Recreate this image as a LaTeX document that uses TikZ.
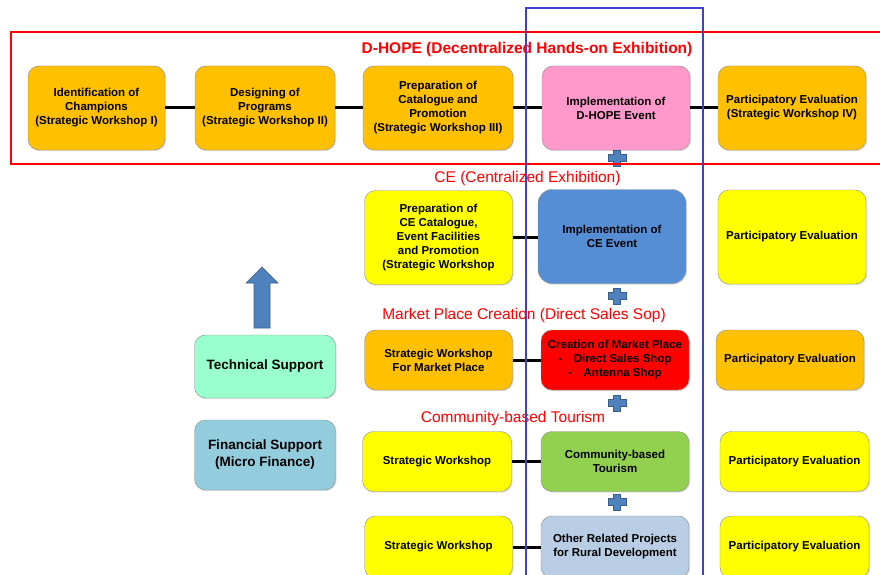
\documentclass[tikz,border=0pt]{standalone}
\usepackage{fontspec}
\setmainfont{Liberation Sans}
\usetikzlibrary{shadows}

\definecolor{stageorange}{HTML}{FFC000}
\definecolor{stagepink}{HTML}{FF99CC}
\definecolor{stageyellow}{HTML}{FFFF00}
\definecolor{stageblue}{HTML}{558ED5}
\definecolor{stagered}{HTML}{FF0000}
\definecolor{stagegreen}{HTML}{92D050}
\definecolor{stagesky}{HTML}{B9CDE5}
\definecolor{techgreen}{HTML}{99FFCC}
\definecolor{fincyan}{HTML}{93CDDD}
\definecolor{edgegray}{HTML}{8C8C8C}
\definecolor{signblue}{HTML}{4F81BD}
\definecolor{signedge}{HTML}{385D8A}
\definecolor{frameblue}{HTML}{4040D0}

\tikzset{
  stage/.style={draw=edgegray, rounded corners=11pt, align=center, inner sep=1pt,
    font=\bfseries\fontsize{11.5}{14}\selectfont,
    drop shadow={shadow xshift=1.2pt, shadow yshift=-1.2pt, opacity=0.25, fill=gray}},
  support/.style={stage, font=\bfseries\fontsize{13.5}{17}\selectfont},
  link/.style={line width=3pt, black},
  bandlabel/.style={text=red, font=\fontsize{15.5}{18}\selectfont},
  addsign/.pic={
    \draw[signedge, fill=signblue, line width=0.6pt]
      (-3.5,-8) -- (3.5,-8) -- (3.5,-3.5) -- (9,-3.5) -- (9,3.5) -- (3.5,3.5)
      -- (3.5,8) -- (-3.5,8) -- (-3.5,3.5) -- (-9,3.5) -- (-9,-3.5) -- (-3.5,-3.5) -- cycle;
  }
}

\begin{document}
\begin{tikzpicture}[x=1pt,y=-1pt]
  \useasboundingbox (0,0) rectangle (880,575);
  \clip (0,0) rectangle (880,575);

  % D-HOPE row
  \begin{scope}[every node/.style={stage, fill=stageorange, minimum height=84pt}]
    \node[minimum width=137pt] (idChamp) at (96.5,108) {Identification of\\Champions\\(Strategic Workshop  I)};
    \node[minimum width=140pt] (desProg) at (265,108) {Designing of\\Programs\\(Strategic Workshop  II)};
    \node[minimum width=150pt] (prepCat) at (438,108) {Preparation of\\Catalogue and\\Promotion\\(Strategic Workshop  III)};
    \node[minimum width=148pt, fill=stagepink] (implDH) at (616,108) {Implementation  of\\D-HOPE Event};
    \node[minimum width=148pt] (evalDH) at (792,108) {Participatory  Evaluation\\(Strategic Workshop  IV)};
  \end{scope}

  % CE row
  \begin{scope}[every node/.style={stage, minimum height=94pt, minimum width=148pt}]
    \node[fill=stageyellow] (prepCE) at (438.5,237.5) {Preparation of\\CE Catalogue,\\Event Facilities\\and Promotion\\(Strategic Workshop};
    \node[fill=stageblue, rounded corners=14pt] (implCE) at (612,236.5) {Implementation  of\\CE Event};
    \node[fill=stageyellow] (evalCE) at (792,237) {Participatory  Evaluation};
  \end{scope}

  % market place row
  \begin{scope}[every node/.style={stage, minimum height=60pt, minimum width=148pt}]
    \node[fill=stageorange] (swMP) at (438.5,360) {Strategic Workshop\\For Market Place};
    \node[fill=stagered] (creMP) at (615,360) {Creation of Market Place\\-\quad Direct Sales Shop\\-\quad Antenna  Shop};
    \node[fill=stageorange] (evalMP) at (790,360) {Participatory  Evaluation};
  \end{scope}

  % tourism row
  \begin{scope}[every node/.style={stage, minimum height=60pt, minimum width=149pt}]
    \node[fill=stageyellow] (swCT) at (437,461.5) {Strategic Workshop};
    \node[fill=stagegreen, minimum width=148pt] (implCT) at (615,461.5) {Community-based\\Tourism};
    \node[fill=stageyellow] (evalCT) at (794.5,461.5) {Participatory  Evaluation};
  \end{scope}

  % rural development row
  \begin{scope}[every node/.style={stage, minimum height=62pt, minimum width=148pt}]
    \node[fill=stageyellow] (swRD) at (438.5,547) {Strategic Workshop};
    \node[fill=stagesky] (othRD) at (615,547) {Other Related Projects\\for Rural Development};
    \node[fill=stageyellow, minimum width=149pt] (evalRD) at (794.5,547) {Participatory  Evaluation};
  \end{scope}

  % supports on the left
  \node[support, fill=techgreen, minimum width=141pt, minimum height=63pt] (tech) at (265,366.5) {Technical Support};
  \node[support, fill=fincyan, minimum width=141pt, minimum height=70pt] (fin) at (265,455) {Financial Support\\(Micro Finance)};
  \draw[signedge, fill=signblue, line width=0.6pt]
    (254,328) -- (254,283) -- (246,283) -- (262,267) -- (278,283) -- (270,283) -- (270,328) -- cycle;

  % links
  \path[link] (idChamp) edge (desProg) (desProg) edge (prepCat)
    (prepCat) edge (implDH) (implDH) edge (evalDH);
  \draw[link] (prepCE.east |- 0,237) -- (implCE.west |- 0,237);
  \draw[link] (swMP) -- (creMP);
  \draw[link] (swCT) -- (implCT);
  \draw[link] (swRD) -- (othRD);

  % plus signs between events
  \pic at (617,158) {addsign};
  \pic at (617,296) {addsign};
  \pic at (617,403) {addsign};
  \pic at (617,502) {addsign};

  % band titles
  \node[bandlabel, font=\bfseries\fontsize{15.5}{18}\selectfont] (tDH) at (527,49) {D-HOPE (Decentralized  Hands-on  Exhibition)};
  \node[bandlabel] (tCE) at (527.5,178) {CE  (Centralized  Exhibition)};
  \node[bandlabel] (tMP) at (524,315) {Market Place Creation  (Direct Sales  Sop)};
  \node[bandlabel] (tCT) at (513,418) {Community-based  Tourism};

  % frames
  \draw[red, line width=2.5pt] (11,32) rectangle (900,164);
  \draw[frameblue, line width=2pt] (526,8) rectangle (703,600);
\end{tikzpicture}
\end{document}
